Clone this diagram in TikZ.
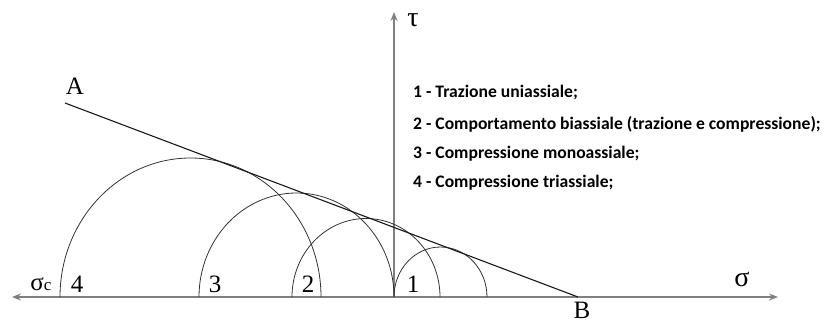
\documentclass[tikz,border=0pt]{standalone}
\usepackage{fontspec}
\setmainfont{Liberation Serif}
\newfontfamily\legendfont{Carlito}
\usetikzlibrary{arrows.meta}
\begin{document}
\begin{tikzpicture}[x=1pt,y=-1pt,
  axis/.style={draw=black!50,line width=1.6pt,-{Stealth[length=9pt,width=7pt,inset=3pt]}},
  mohr/.style={draw=black!80,line width=0.8pt},
  env/.style={draw=black!90,line width=1.1pt},
  lbl/.style={inner sep=0pt,font=\fontsize{25}{27}\selectfont},
  leg/.style={anchor=west,inner sep=0pt,font=\legendfont\bfseries\fontsize{17.6}{19}\selectfont}]
\useasboundingbox (0,0) rectangle (828,322);
% axes
\coordinate (O) at (394,297);
\coordinate (Xr) at (778,297);
\coordinate (Xl) at (12,297);
\coordinate (Yt) at (394,12);
\draw[axis] (O) -- (Xr);
\draw[axis] (O) -- (Xl);
\draw[axis] (O) -- (Yt);
% Mohr circles
\draw[mohr] (60,297) arc[start angle=180,end angle=360,x radius=130.5,y radius=139];
\draw[mohr] (199,297) arc[start angle=180,end angle=360,x radius=97.5,y radius=104];
\draw[mohr] (292,297) arc[start angle=180,end angle=360,x radius=74,y radius=78.5];
\draw[mohr] (394,297) arc[start angle=180,end angle=360,x radius=46.5,y radius=50];
% envelope
\coordinate (A) at (65,103);
\coordinate (B) at (578,297);
\draw[env] (A) -- (B);
% labels
\node[lbl] (lA) at (75,86) {A};
\node[lbl] (lB) at (582,310) {B};
\node[lbl] (lsc) at (41,284) {σ{\fontsize{17}{18}\selectfont c}};
\node[lbl] (l4) at (77,284) {4};
\node[lbl] (l3) at (215,284) {3};
\node[lbl] (l2) at (308,284) {2};
\node[lbl] (l1) at (413,284) {1};
\node[lbl,font=\fontsize{28}{30}\selectfont] (ls) at (742,279) {σ};
\node[lbl,font=\fontsize{28}{30}\selectfont] (lt) at (413,20) {τ};
% legend
\node[leg] (g1) at (413,93) {1 - Trazione uniassiale;};
\node[leg] (g2) at (413,124) {2 - Comportamento biassiale (trazione e compressione);};
\node[leg] (g3) at (413,154) {3 - Compressione monoassiale;};
\node[leg] (g4) at (413,183) {4 - Compressione triassiale;};
\end{tikzpicture}
\end{document}
